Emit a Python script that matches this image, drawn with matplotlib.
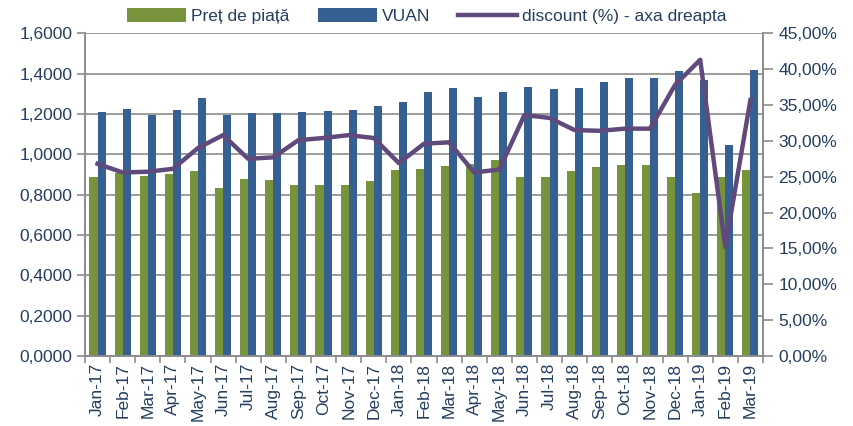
import numpy as np
import matplotlib
matplotlib.use("Agg")
import matplotlib.pyplot as plt
from matplotlib.ticker import FuncFormatter, MultipleLocator

plt.rcParams['font.family'] = ['Liberation Sans', 'DejaVu Sans']

# luni
months = ["Jan-17", "Feb-17", "Mar-17", "Apr-17", "May-17", "Jun-17", "Jul-17", "Aug-17",
          "Sep-17", "Oct-17", "Nov-17", "Dec-17", "Jan-18", "Feb-18", "Mar-18", "Apr-18",
          "May-18", "Jun-18", "Jul-18", "Aug-18", "Sep-18", "Oct-18", "Nov-18", "Dec-18",
          "Jan-19", "Feb-19", "Mar-19"]

pret_piata = [0.889, 0.907, 0.892, 0.904, 0.917, 0.835, 0.876, 0.872, 0.850, 0.850,
              0.850, 0.869, 0.924, 0.929, 0.940, 0.953, 0.970, 0.887, 0.890, 0.915,
              0.937, 0.945, 0.945, 0.887, 0.810, 0.887, 0.920]

vuan = [1.211, 1.225, 1.197, 1.220, 1.280, 1.197, 1.205, 1.205, 1.211, 1.216,
        1.221, 1.241, 1.260, 1.311, 1.330, 1.282, 1.308, 1.333, 1.323, 1.330,
        1.357, 1.377, 1.377, 1.412, 1.370, 1.044, 1.420]

discount = [26.8, 25.6, 25.7, 26.1, 29.0, 30.8, 27.5, 27.7, 30.1, 30.4,
            30.8, 30.4, 26.9, 29.6, 29.8, 25.6, 26.0, 33.6, 33.2, 31.5,
            31.4, 31.7, 31.7, 37.8, 41.3, 15.2, 35.7]

green = "#77933C"
blue = "#366092"
purple = "#604A7B"
grid_col = "#8C8C8C"
txt = "#263E5E"

fig = plt.figure(figsize=(8.54, 4.26), dpi=100)
ax = fig.add_axes([0.0995, 0.164, 0.7939, 0.758])
ax2 = ax.twinx()

x = np.arange(len(months))
w = 0.32
ax.bar(x, pret_piata, width=-w, align="edge", color=green, label="Preț de piață", zorder=2)
ax.bar(x, vuan, width=w, align="edge", color=blue, label="VUAN", zorder=2)
ax2.plot(x, discount, color=purple, linewidth=3.2, solid_joinstyle="round",
         label="discount (%) - axa dreapta", zorder=3)

ax.set_xlim(-0.5, len(months) - 0.5)
ax.set_ylim(0, 1.6)
ax2.set_ylim(0, 45)

ax.yaxis.set_major_locator(MultipleLocator(0.2))
ax.yaxis.set_major_formatter(FuncFormatter(lambda v, p: f"{v:.4f}".replace(".", ",")))
ax2.yaxis.set_major_locator(MultipleLocator(5))
ax2.yaxis.set_major_formatter(FuncFormatter(lambda v, p: f"{v:.2f}%".replace(".", ",")))

ax.grid(axis="y", color=grid_col, linewidth=1.2, zorder=0)
ax.set_axisbelow(True)

# etichete luni intre tick-uri
ax.set_xticks(x)
ax.set_xticklabels(months, rotation=90, fontsize=12.5, color=txt)
ax.tick_params(axis="x", length=0, pad=5)
ax.set_xticks(np.arange(-0.5, len(months)), minor=True)
ax.tick_params(axis="x", which="minor", length=5, color=grid_col, width=1.2)

ax.tick_params(axis="y", labelsize=12.5, labelcolor=txt, color=grid_col, length=6, width=1.2, pad=3)
ax2.tick_params(axis="y", labelsize=12.5, labelcolor=txt, color=grid_col, length=7, width=1.2, pad=4)

for a in (ax, ax2):
    a.spines["top"].set_visible(False)
    for s in ("left", "right", "bottom"):
        a.spines[s].set_color(grid_col)
        a.spines[s].set_linewidth(1.2)

h1, l1 = ax.get_legend_handles_labels()
h2, l2 = ax2.get_legend_handles_labels()
leg = fig.legend(h1 + h2, l1 + l2, loc="center", bbox_to_anchor=(0.5, 0.962), ncol=3,
                 frameon=False, fontsize=12.5, handlelength=3.4, handleheight=0.8,
                 columnspacing=1.6, handletextpad=0.3)
for t in leg.get_texts():
    t.set_color(txt)

fig.savefig("out.png", dpi=100)
